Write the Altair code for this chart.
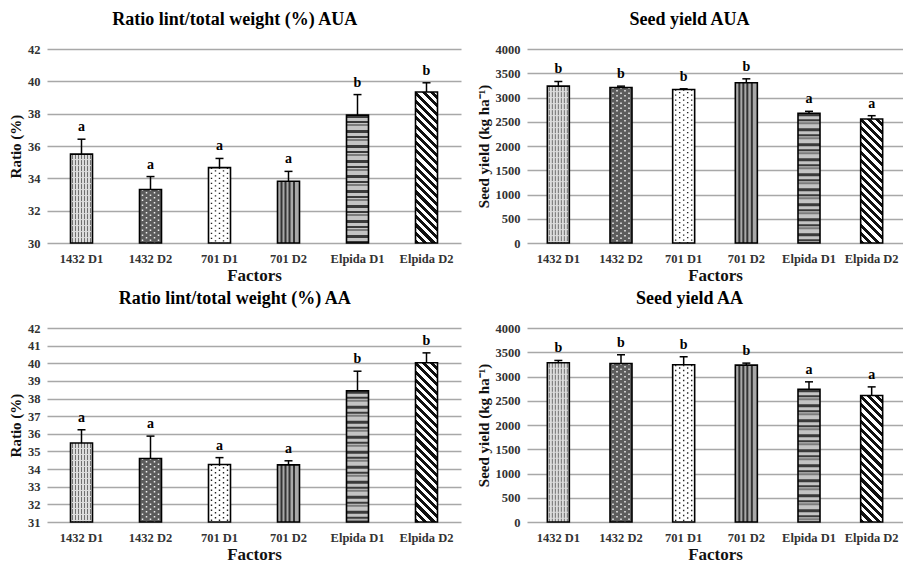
import math
import altair as alt
import pandas as pd

cats = ["1432 D1", "1432 D2", "701 D1", "701 D2", "Elpida D1", "Elpida D2"]

ratio_aua = [35.50, 33.31, 34.66, 33.82, 37.91, 39.34]
ratio_aua_err = [0.92, 0.80, 0.57, 0.61, 1.27, 0.57]
ratio_aua_letters = ["a", "a", "a", "a", "b", "b"]

yield_aua = [3234, 3207, 3166, 3303, 2674, 2557]
yield_aua_err = [96, 27, 13, 82, 41, 68]
yield_aua_letters = ["b", "b", "b", "b", "a", "a"]

ratio_aa = [35.48, 34.60, 34.26, 34.24, 38.44, 40.03]
ratio_aa_err = [0.75, 1.27, 0.39, 0.23, 1.11, 0.56]
ratio_aa_letters = ["a", "a", "a", "a", "b", "b"]

yield_aa = [3283, 3269, 3241, 3234, 2738, 2607]
yield_aa_err = [48, 179, 166, 42, 152, 179]
yield_aa_letters = ["b", "b", "b", "b", "a", "a"]

ratio_aua_ticks = [30, 32, 34, 36, 38, 40, 42]
ratio_aa_ticks = [31, 32, 33, 34, 35, 36, 37, 38, 39, 40, 41, 42]
yield_ticks = [0, 500, 1000, 1500, 2000, 2500, 3000, 3500, 4000]

SERIF = "Liberation Serif"
BAR_W = 22
PLOT_H = 194


def diag_gradient(bar_h, w=BAR_W, period=5.8):
    r = bar_h / w
    a = (1 + r) / (1 + r * r)
    n = max(1, int(round((w + bar_h) / (math.sqrt(2) * period))))
    stops = []
    for k in range(n):
        o0, o1, o2 = k / n, (k + 0.5) / n, (k + 1) / n
        stops += [
            {"offset": o0, "color": "#111111"},
            {"offset": o1, "color": "#111111"},
            {"offset": o1, "color": "#ffffff"},
            {"offset": o2, "color": "#ffffff"},
        ]
    return {"gradient": "linear", "x1": 0, "y1": 1, "x2": a, "y2": 1 - a * r,
            "stops": stops}


def panel(values, errs, letters, lo, hi, ticks, title, ytitle, width):
    df = pd.DataFrame({
        "cat": cats,
        "val": values,
        "top": [v + e for v, e in zip(values, errs)],
        "letter": letters,
    })
    x = alt.X("cat:N", sort=cats, title="Factors",
              scale=alt.Scale(paddingInner=0, paddingOuter=0),
              axis=alt.Axis(labelAngle=0, labelPadding=9, titlePadding=3,
                            grid=False))
    yscale = alt.Scale(domain=[lo, hi], nice=False, zero=False)
    yaxis = alt.Axis(values=ticks, title=ytitle, labelPadding=7, titlePadding=4,
                     format="d")
    y = alt.Y("val:Q", scale=yscale, axis=yaxis)
    ytop = alt.Y("top:Q", scale=yscale, axis=yaxis)
    base = alt.Chart(df).encode(x=x)
    sel = lambda c: base.transform_filter(alt.datum.cat == c)
    y2lo = alt.datum(lo)
    layers = []

    # 1432 D1: light grey with fine vertical dark lines
    layers.append(sel(cats[0]).mark_bar(size=BAR_W, fill="#dcdcdc", strokeWidth=0)
                  .encode(y=y, y2=y2lo))
    for off in [-9, -6, -3, 0, 3, 6, 9]:
        layers.append(sel(cats[0]).mark_rule(xOffset=off, color="#707070",
                                             strokeWidth=1, strokeDash=[5, 1])
                      .encode(y=y, y2=y2lo))
    # 1432 D2: dark grey with white dots
    layers.append(sel(cats[1]).mark_bar(size=BAR_W, fill="#5c5c5c", strokeWidth=0)
                  .encode(y=y, y2=y2lo))
    for off, dofs in [(-8, 0), (-4, 2.5), (0, 0), (4, 2.5), (8, 0)]:
        layers.append(sel(cats[1]).mark_rule(xOffset=off, color="#f0f0f0",
                                             strokeWidth=1.5, strokeDash=[1.5, 3.5],
                                             strokeDashOffset=dofs)
                      .encode(y=y, y2=y2lo))
    # 701 D1: white with black dots
    layers.append(sel(cats[2]).mark_bar(size=BAR_W, fill="#ffffff", strokeWidth=0)
                  .encode(y=y, y2=y2lo))
    for off, dofs in [(-8, 0), (-4, 2.5), (0, 0), (4, 2.5), (8, 0)]:
        layers.append(sel(cats[2]).mark_rule(xOffset=off, color="#222222",
                                             strokeWidth=1.4, strokeDash=[1.4, 3.6],
                                             strokeDashOffset=dofs)
                      .encode(y=y, y2=y2lo))
    # 701 D2: vertical grey / dark stripes
    layers.append(sel(cats[3]).mark_bar(size=BAR_W, fill="#a8a8a8", strokeWidth=0)
                  .encode(y=y, y2=y2lo))
    for off in [-7, -3, 1, 5.5]:
        layers.append(sel(cats[3]).mark_rule(xOffset=off, color="#333333",
                                             strokeWidth=2)
                      .encode(y=y, y2=y2lo))
    # Elpida D1: horizontal bands of mixed greys
    layers.append(sel(cats[4]).mark_bar(size=BAR_W, fill="#c4c4c4", strokeWidth=0)
                  .encode(y=y, y2=y2lo))
    layers.append(sel(cats[4]).mark_rule(color="#3a3a3a", strokeWidth=BAR_W,
                                         strokeDash=[3, 3, 2, 7])
                  .encode(y=y, y2=y2lo))
    layers.append(sel(cats[4]).mark_rule(color="#7c7c7c", strokeWidth=BAR_W,
                                         strokeDash=[2, 13], strokeDashOffset=-9)
                  .encode(y=y, y2=y2lo))
    # Elpida D2: diagonal black/white stripes
    bar_h = (values[5] - lo) / (hi - lo) * PLOT_H
    layers.append(sel(cats[5]).mark_bar(size=BAR_W, fill=diag_gradient(bar_h),
                                        strokeWidth=0)
                  .encode(y=y, y2=y2lo))

    # outline of all bars
    layers.append(base.mark_bar(size=BAR_W, fillOpacity=0, stroke="#000000",
                                strokeWidth=1.6).encode(y=y, y2=y2lo))
    # error bars (upper only)
    layers.append(base.mark_rule(color="#000000", strokeWidth=1.5)
                  .encode(y=y, y2="top:Q"))
    layers.append(base.mark_tick(size=8, thickness=1.5, color="#000000", opacity=1)
                  .encode(y=ytop))
    # significance letters
    layers.append(base.mark_text(dy=-5, baseline="bottom", font=SERIF,
                                 fontSize=14, fontWeight="bold", color="#000000")
                  .encode(y=ytop, text="letter:N"))

    return alt.layer(*layers).properties(
        width=width, height=PLOT_H,
        title=alt.Title(title, font=SERIF, fontSize=18, fontWeight="bold",
                        anchor="middle", frame="bounds", offset=14, color="#000000"),
    )


p1 = panel(ratio_aua, ratio_aua_err, ratio_aua_letters, 30, 42, ratio_aua_ticks,
           "Ratio lint/total weight (%) AUA", "Ratio (%)", 414)
p2 = panel(yield_aua, yield_aua_err, yield_aua_letters, 0, 4000, yield_ticks,
           "Seed yield AUA", "Seed yield (kg ha\u207b\u00b9)", 376)
p3 = panel(ratio_aa, ratio_aa_err, ratio_aa_letters, 31, 42, ratio_aa_ticks,
           "Ratio lint/total weight (%) AA", "Ratio (%)", 414)
p4 = panel(yield_aa, yield_aa_err, yield_aa_letters, 0, 4000, yield_ticks,
           "Seed yield AA", "Seed yield (kg ha\u207b\u00b9)", 376)

chart = alt.vconcat(
    alt.hconcat(p1, p2, spacing=15),
    alt.hconcat(p3, p4, spacing=15),
    spacing=6,
).properties(
    padding={"left": 0, "top": 3, "right": 0, "bottom": 0},
    background="#ffffff",
).configure_view(stroke=None).configure_axis(
    grid=True, gridColor="#a8a8a8", gridWidth=1.5,
    domain=False, ticks=False,
    labelFont=SERIF, labelFontSize=12.5, labelFontWeight="bold", labelColor="#333333",
    titleFont=SERIF, titleFontWeight="bold", titleColor="#111111",
).configure_axisY(titleFontSize=15).configure_axisX(titleFontSize=17)

chart.save("out.html", embed_options={"renderer": "svg", "actions": False})
